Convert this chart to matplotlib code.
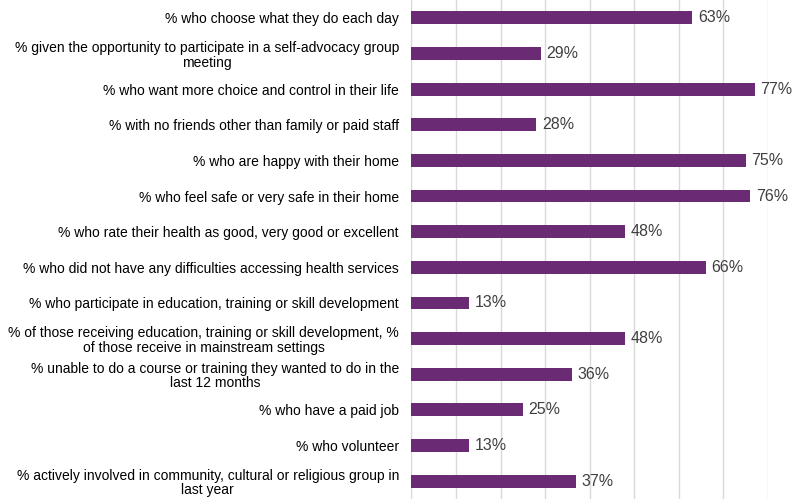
import matplotlib
matplotlib.use("Agg")
import matplotlib.pyplot as plt

# ------------------------ DATA ------------------------

categories = [
    "% who choose what they do each day",
    "% given the opportunity to participate in a self-advocacy group\nmeeting",
    "% who want more choice and control in their life",
    "% with no friends other than family or paid staff",
    "% who are happy with their home",
    "% who feel safe or very safe in their home",
    "% who rate their health as good, very good or excellent",
    "% who did not have any difficulties accessing health services",
    "% who participate in education, training or skill development",
    "% of those receiving education, training or skill development, %\nof those receive in mainstream settings",
    "% unable to do a course or training they wanted to do in the\nlast 12 months",
    "% who have a paid job",
    "% who volunteer",
    "% actively involved in community, cultural or religious group in\nlast year",
]
values = [63, 29, 77, 28, 75, 76, 48, 66, 13, 48, 36, 25, 13, 37]

BAR_COLOR = "#6B2A74"
LABEL_COLOR = "#404040"

plt.rcParams["font.family"] = ["Liberation Sans", "DejaVu Sans"]

# ------------------------ PLOT ------------------------

fig = plt.figure(figsize=(7.95, 4.99), dpi=100)
ax = fig.add_axes([0.5175, 0.0, 0.4485, 1.0])

pos = list(range(len(categories)))
bars = ax.barh(pos, values, height=0.36, color=BAR_COLOR, zorder=3)

for b, v in zip(bars, values):
    ax.annotate(f"{v}%", (b.get_width(), b.get_y() + b.get_height() / 2),
                xytext=(4, 0), textcoords="offset points", va="center",
                ha="left", fontsize=11.5, color=LABEL_COLOR, clip_on=False)

ax.set_xlim(0, 80)
ax.set_ylim(len(categories) - 0.5, -0.5)
ax.set_xticks(range(0, 81, 10))
ax.set_xticklabels([])
ax.tick_params(axis="x", length=0)
ax.tick_params(axis="y", length=0, pad=9)
ax.set_yticks(pos)
ax.set_yticklabels(categories, fontsize=10, color="black", linespacing=1.05)
for t in ax.get_yticklabels():
    t.set_multialignment("center")

ax.grid(axis="x", color="#D9D9D9", linewidth=1, zorder=0)
for s in ["top", "right", "bottom"]:
    ax.spines[s].set_visible(False)
ax.spines["left"].set_color("#D9D9D9")

fig.savefig("out.png", dpi=100)
